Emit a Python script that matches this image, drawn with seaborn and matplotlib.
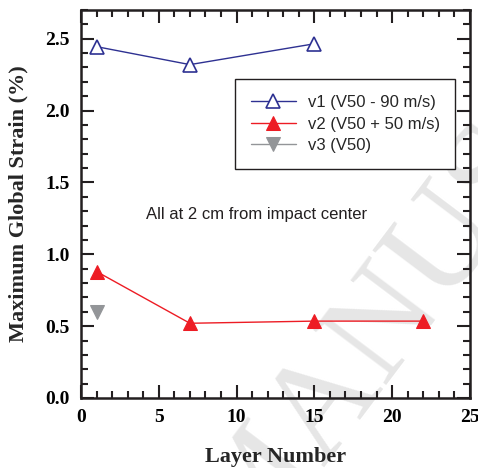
import numpy as np
import pandas as pd
import matplotlib
matplotlib.use("Agg")
import matplotlib.pyplot as plt
import seaborn as sns
from matplotlib.ticker import MultipleLocator

# data
v1_layer = [1, 7, 15]
v1_strain = [2.445, 2.32, 2.465]
v2_layer = [1, 7, 15, 22]
v2_strain = [0.88, 0.52, 0.535, 0.535]
v3_layer = [1]
v3_strain = [0.60]

labels = ["v1 (V50 - 90 m/s)", "v2 (V50 + 50 m/s)", "v3 (V50)"]
colors = ["#2E3192", "#ED1C24", "#939598"]

sns.set_theme(style="ticks")
plt.rcParams["font.family"] = ["Liberation Sans", "DejaVu Sans"]

fig = plt.figure(figsize=(4.78, 4.68), dpi=100)
ax = fig.add_axes([0.1695, 0.1496, 0.8135, 0.829])
ax.set_facecolor("none")

# faint watermark from the source page
ax.text(0.52, -0.203, "MANUSCRIPT", transform=fig.transFigure, rotation=53,
        rotation_mode="anchor", ha="left", va="baseline", color="#e6e6e6",
        fontsize=100, family="Liberation Serif", zorder=0.5, clip_on=False)

df1 = pd.DataFrame({"layer": v1_layer, "strain": v1_strain})
df2 = pd.DataFrame({"layer": v2_layer, "strain": v2_strain})
df3 = pd.DataFrame({"layer": v3_layer, "strain": v3_strain})

sns.lineplot(data=df1, x="layer", y="strain", ax=ax, color=colors[0], lw=1.0,
             marker="^", markersize=10, markerfacecolor="white",
             markeredgecolor=colors[0], markeredgewidth=1.2, label=labels[0])
sns.lineplot(data=df2, x="layer", y="strain", ax=ax, color=colors[1], lw=1.0,
             marker="^", markersize=10, markerfacecolor=colors[1],
             markeredgecolor=colors[1], label=labels[1])
sns.lineplot(data=df3, x="layer", y="strain", ax=ax, color=colors[2], lw=1.0,
             marker="v", markersize=10, markerfacecolor=colors[2],
             markeredgecolor=colors[2], label=labels[2])

ax.set_xlim(0, 25)
ax.set_ylim(0, 2.7)
ax.xaxis.set_major_locator(MultipleLocator(5))
ax.xaxis.set_minor_locator(MultipleLocator(1))
ax.yaxis.set_major_locator(MultipleLocator(0.5))
ax.yaxis.set_minor_locator(MultipleLocator(0.1))
ax.yaxis.set_major_formatter(matplotlib.ticker.FormatStrFormatter("%.1f"))
ax.tick_params(which="both", direction="in", top=True, right=True, width=1.5,
               colors="#231F20", labelcolor="black", pad=8)
ax.tick_params(which="major", length=9.5)
ax.tick_params(which="minor", length=5)
for s in ax.spines.values():
    s.set_linewidth(1.8)
    s.set_color("#231F20")
for t in ax.get_xticklabels() + ax.get_yticklabels():
    t.set_family("Liberation Serif")
    t.set_fontweight("bold")
    t.set_fontsize(14)

ax.set_xlabel("Layer Number", family="Liberation Serif", fontweight="bold",
              fontsize=16, labelpad=15)
ax.set_ylabel("Maximum Global Strain (%)", family="Liberation Serif",
              fontweight="bold", fontsize=16, labelpad=12)

ax.text(11.3, 1.28, "All at 2 cm from impact center", fontsize=12,
        ha="center", va="center", color="#231F20")

leg = ax.legend(loc="upper left", bbox_to_anchor=(0.396, 0.822), fontsize=12,
                frameon=True, fancybox=False, handlelength=2.7,
                borderpad=0.95, labelspacing=0.4, handletextpad=0.7,
                borderaxespad=0)
leg.get_frame().set_edgecolor("#231F20")
leg.get_frame().set_linewidth(1.0)
leg.get_frame().set_alpha(1)

fig.savefig("out.png", dpi=100)
